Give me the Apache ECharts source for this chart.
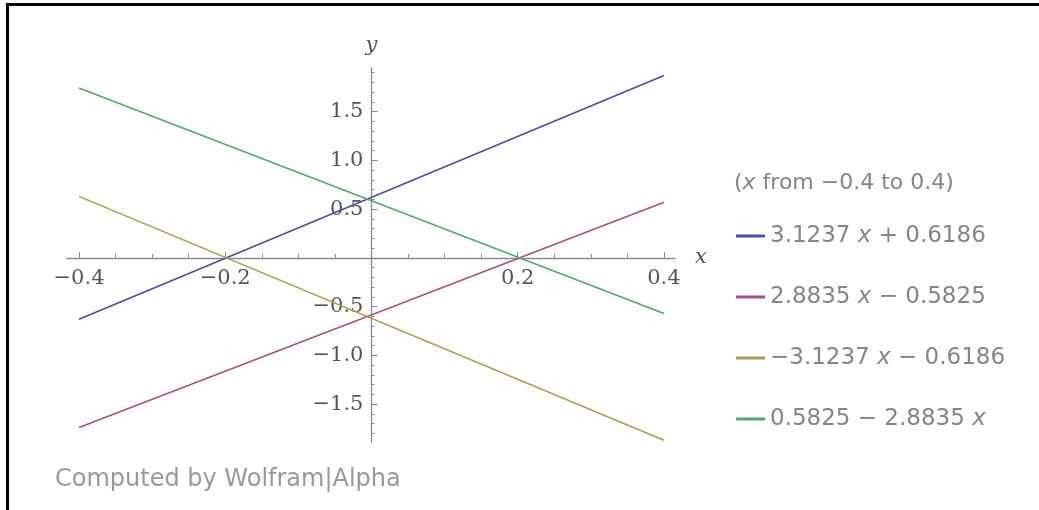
<!DOCTYPE html>
<html>
<head>
<meta charset="utf-8">
<script src="https://cdn.jsdelivr.net/npm/echarts@6/dist/echarts.min.js"></script>
<style>
  html, body { margin: 0; padding: 0; background: #fff; }
  #chart { position: absolute; left: 0; top: 0; width: 1039px; height: 510px; }
  #frame { position: absolute; left: 6px; top: 3px; right: 0; bottom: 0;
           border-top: 3px solid #000; border-left: 3px solid #000; pointer-events: none; }
</style>
</head>
<body>
<div id="chart"></div>
<div id="frame"></div>
<script>
// line endpoints (x from -0.4 to 0.4)
const xEnds = [-0.4, 0.4]
const seriesNames = ['3.1237 x + 0.6186', '2.8835 x − 0.5825', '−3.1237 x − 0.6186', '0.5825 − 2.8835 x']
const blueY = [-0.63, 1.87]
const magentaY = [-1.74, 0.57]
const oliveY = [0.63, -1.87]
const greenY = [1.74, -0.57]
const seriesColors = ['#4d4dab', '#ab4f82', '#ab9d4f', '#4fab69']

// axis extents and ticks
const X_MIN = -0.4164
const X_MAX = 0.4151
const Y_MIN = -1.888
const Y_MAX = 1.946
const xLabels = [-0.4, -0.2, 0.2, 0.4]
const xMajorTicks = [-0.4, -0.2, 0.2, 0.4]
const xMinorTicks = [-0.35, -0.3, -0.25, -0.15, -0.1, -0.05, 0.05, 0.1, 0.15, 0.25, 0.3, 0.35]
const yLabels = [-1.5, -1.0, -0.5, 0.5, 1.0, 1.5]
const yMajorTicks = [-1.5, -1.0, -0.5, 0.5, 1.0, 1.5]
const yMinorTicks = [-1.8, -1.7, -1.6, -1.4, -1.3, -1.2, -1.1, -0.9, -0.8, -0.7, -0.6, -0.4, -0.3, -0.2, -0.1,
  0.1, 0.2, 0.3, 0.4, 0.6, 0.7, 0.8, 0.9, 1.1, 1.2, 1.3, 1.4, 1.6, 1.7, 1.8, 1.9]

const chart = echarts.init(document.getElementById('chart'))

// plot box: the axes cross at (0, 0), so shift them in from the grid edges
const GRID = { left: 67, top: 68, width: 608, height: 374 }
const xOffset = -GRID.height * (0 - Y_MIN) / (Y_MAX - Y_MIN)
const yOffset = -GRID.width * (0 - X_MIN) / (X_MAX - X_MIN)

const fmt = v => (v < 0 ? '−' : '') + Math.abs(v).toFixed(1)
const axisGrey = '#8a8a8a'
const tickFont = { fontFamily: 'DejaVu Serif', fontSize: 21, color: '#555' }
const nameFont = { fontFamily: 'DejaVu Serif', fontStyle: 'italic', fontSize: 21, color: '#555' }
const sansGrey = '#858585'

const toPairs = ys => xEnds.map((x, i) => [x, ys[i]])
const allY = [blueY, magentaY, oliveY, greenY]

const option = {
  animation: false,
  grid: { ...GRID, containLabel: false },
  title: [
    {
      text: '({i|x} from −0.4 to 0.4)',
      left: 729, top: 167,
      textStyle: {
        fontFamily: 'DejaVu Sans', fontSize: 22, fontWeight: 'normal', color: sansGrey,
        rich: { i: { fontFamily: 'DejaVu Sans', fontStyle: 'italic', fontSize: 22, color: sansGrey } }
      }
    },
    {
      text: 'Computed by Wolfram|Alpha',
      left: 50, top: 463,
      textStyle: { fontFamily: 'DejaVu Sans', fontSize: 24, fontWeight: 'normal', color: '#999' }
    }
  ],
  legend: {
    orient: 'vertical',
    left: 731, top: 218,
    itemWidth: 29, itemHeight: 3, itemGap: 35,
    icon: 'rect',
    selectedMode: false,
    data: seriesNames,
    formatter: name => name.replace(/x/g, '{i|x}'),
    textStyle: {
      fontFamily: 'DejaVu Sans', fontSize: 23, color: sansGrey, lineHeight: 26,
      rich: { i: { fontFamily: 'DejaVu Sans', fontStyle: 'italic', fontSize: 23, color: sansGrey, lineHeight: 26 } }
    }
  },
  xAxis: [
    {
      type: 'value', min: X_MIN, max: X_MAX, position: 'bottom', offset: xOffset,
      name: 'x', nameLocation: 'end', nameGap: 20, nameTextStyle: nameFont,
      axisLine: { onZero: false, lineStyle: { color: axisGrey, width: 1.3 } },
      axisTick: { inside: true, length: 6, customValues: xMajorTicks, lineStyle: { color: axisGrey } },
      axisLabel: { customValues: xLabels, formatter: fmt, margin: 10, ...tickFont },
      splitLine: { show: false }
    },
    {
      type: 'value', min: X_MIN, max: X_MAX, position: 'bottom', offset: xOffset,
      axisLine: { onZero: false, lineStyle: { opacity: 0 } },
      axisTick: { inside: true, length: 4, customValues: xMinorTicks, lineStyle: { color: axisGrey } },
      axisLabel: { show: false },
      splitLine: { show: false }
    }
  ],
  yAxis: [
    {
      type: 'value', min: Y_MIN, max: Y_MAX, position: 'left', offset: yOffset,
      name: 'y', nameLocation: 'end', nameGap: 12, nameTextStyle: nameFont,
      axisLine: { onZero: false, lineStyle: { color: axisGrey, width: 1.3 } },
      axisTick: { inside: true, length: 6, customValues: yMajorTicks, lineStyle: { color: axisGrey } },
      axisLabel: { customValues: yLabels, formatter: fmt, margin: 8, ...tickFont },
      splitLine: { show: false }
    },
    {
      type: 'value', min: Y_MIN, max: Y_MAX, position: 'left', offset: yOffset,
      axisLine: { onZero: false, lineStyle: { opacity: 0 } },
      axisTick: { inside: true, length: 3, customValues: yMinorTicks, lineStyle: { color: axisGrey } },
      axisLabel: { show: false },
      splitLine: { show: false }
    }
  ],
  series: seriesNames.map((name, i) => ({
    name,
    type: 'line',
    data: toPairs(allY[i]),
    symbol: 'none',
    color: seriesColors[i],
    lineStyle: { color: seriesColors[i], width: 1.6 }
  }))
}

chart.setOption(option)
</script>
</body>
</html>
